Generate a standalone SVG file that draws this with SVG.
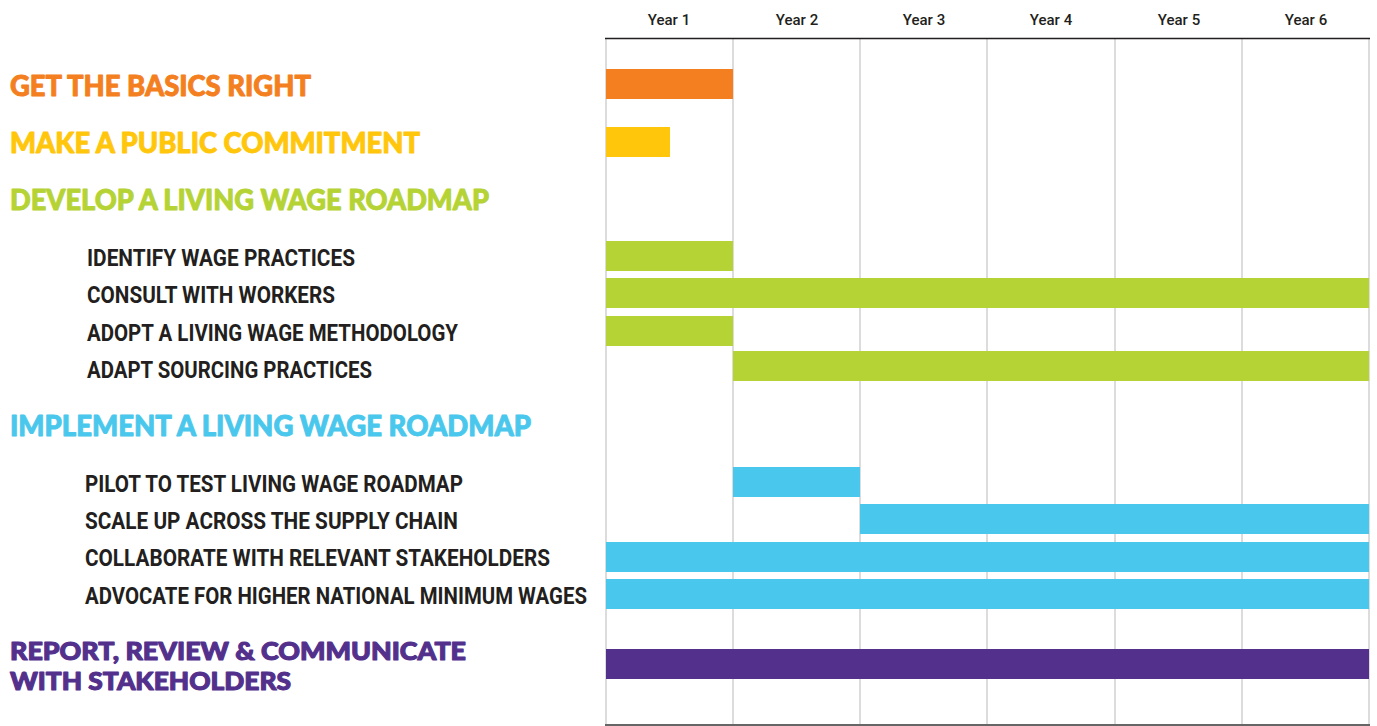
<svg xmlns="http://www.w3.org/2000/svg" width="1377" height="726" viewBox="0 0 1377 726">
<style>
.yr{font-family:"Roboto","Liberation Sans",sans-serif;font-size:15px;font-weight:500;fill:#231f20;text-anchor:middle}
.hd{font-family:"Lato","Liberation Sans",sans-serif;font-size:28px;font-weight:900;stroke-width:0.9;stroke-linejoin:round}
.hd2{font-size:25px;stroke-width:1.1}
.sub{font-family:"Roboto","Liberation Sans",sans-serif;font-size:23px;font-weight:700;fill:#231f20}
.grid{stroke:#d0d0d0;stroke-width:1.5}
.o{fill:#F47F20;stroke:#F47F20}.y{fill:#FFC60B;stroke:#FFC60B}.g{fill:#B5D334;stroke:#B5D334}.b{fill:#4AC7EC;stroke:#4AC7EC}.p{fill:#52308C;stroke:#52308C}
rect.o,rect.y,rect.g,rect.b,rect.p{stroke:none}
</style>
<rect width="1377" height="726" fill="#ffffff"/>
<g id="grid">
<text class="yr" x="669" y="25">Year 1</text>
<text class="yr" x="797" y="25">Year 2</text>
<text class="yr" x="924" y="25">Year 3</text>
<text class="yr" x="1051" y="25">Year 4</text>
<text class="yr" x="1179" y="25">Year 5</text>
<text class="yr" x="1306" y="25">Year 6</text>
<line class="grid" x1="606" y1="38" x2="606" y2="725"/>
<line class="grid" x1="733" y1="38" x2="733" y2="725"/>
<line class="grid" x1="860" y1="38" x2="860" y2="725"/>
<line class="grid" x1="987" y1="38" x2="987" y2="725"/>
<line class="grid" x1="1115" y1="38" x2="1115" y2="725"/>
<line class="grid" x1="1242" y1="38" x2="1242" y2="725"/>
<line class="grid" x1="1369" y1="38" x2="1369" y2="725"/>
<line x1="605" y1="38.5" x2="1370" y2="38.5" stroke="#231f20" stroke-width="1.5"/>
<line x1="605" y1="725" x2="1370" y2="725" stroke="#666666" stroke-width="2"/>
</g>
<g id="basics">
<text class="hd o" x="10" y="96" textLength="301" lengthAdjust="spacingAndGlyphs">GET THE BASICS RIGHT</text>
<rect class="o" x="606" y="69" width="127" height="30"/>
</g>
<g id="commitment">
<text class="hd y" x="10" y="153" textLength="410" lengthAdjust="spacingAndGlyphs">MAKE A PUBLIC COMMITMENT</text>
<rect class="y" x="606" y="127" width="64" height="30"/>
</g>
<g id="develop">
<text class="hd g" x="10" y="210" textLength="479" lengthAdjust="spacingAndGlyphs">DEVELOP A LIVING WAGE ROADMAP</text>
</g>
<g id="identify">
<text class="sub" x="87" y="266" textLength="268" lengthAdjust="spacingAndGlyphs">IDENTIFY WAGE PRACTICES</text>
<rect class="g" x="606" y="241" width="127" height="30"/>
</g>
<g id="consult">
<text class="sub" x="87" y="303" textLength="248" lengthAdjust="spacingAndGlyphs">CONSULT WITH WORKERS</text>
<rect class="g" x="606" y="278" width="763" height="30"/>
</g>
<g id="adopt">
<text class="sub" x="87" y="341" textLength="371" lengthAdjust="spacingAndGlyphs">ADOPT A LIVING WAGE METHODOLOGY</text>
<rect class="g" x="606" y="316" width="127" height="30"/>
</g>
<g id="adapt">
<text class="sub" x="87" y="378" textLength="285" lengthAdjust="spacingAndGlyphs">ADAPT SOURCING PRACTICES</text>
<rect class="g" x="733" y="351" width="636" height="30"/>
</g>
<g id="implement">
<text class="hd b" x="10" y="436" textLength="521" lengthAdjust="spacingAndGlyphs">IMPLEMENT A LIVING WAGE ROADMAP</text>
</g>
<g id="pilot">
<text class="sub" x="85" y="492" textLength="378" lengthAdjust="spacingAndGlyphs">PILOT TO TEST LIVING WAGE ROADMAP</text>
<rect class="b" x="733" y="467" width="127" height="30"/>
</g>
<g id="scale">
<text class="sub" x="85" y="529" textLength="373" lengthAdjust="spacingAndGlyphs">SCALE UP ACROSS THE SUPPLY CHAIN</text>
<rect class="b" x="860" y="504" width="509" height="30"/>
</g>
<g id="collaborate">
<text class="sub" x="85" y="566" textLength="465" lengthAdjust="spacingAndGlyphs">COLLABORATE WITH RELEVANT STAKEHOLDERS</text>
<rect class="b" x="606" y="542" width="763" height="30"/>
</g>
<g id="advocate">
<text class="sub" x="85" y="604" textLength="502" lengthAdjust="spacingAndGlyphs">ADVOCATE FOR HIGHER NATIONAL MINIMUM WAGES</text>
<rect class="b" x="606" y="579" width="763" height="30"/>
</g>
<g id="report">
<text class="hd hd2 p" x="10" y="660" textLength="456" lengthAdjust="spacingAndGlyphs">REPORT, REVIEW &amp; COMMUNICATE</text>
<text class="hd hd2 p" x="10" y="690" textLength="281" lengthAdjust="spacingAndGlyphs">WITH STAKEHOLDERS</text>
<rect class="p" x="606" y="649" width="763" height="30"/>
</g>
<g id="connectors"></g>
</svg>
